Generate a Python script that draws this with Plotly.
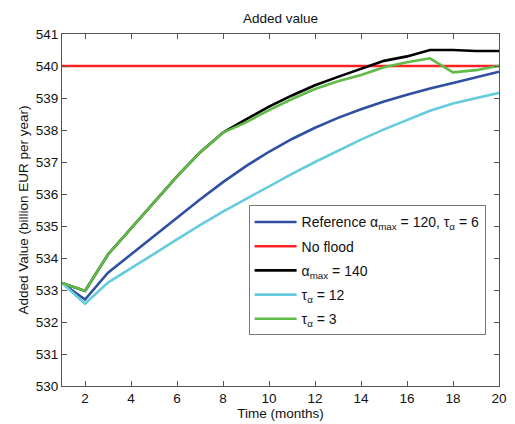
import plotly.graph_objects as go

months = list(range(1, 21))

reference = [533.22, 532.70, 533.54, 534.12, 534.68, 535.26, 535.83, 536.37, 536.87, 537.32,
             537.72, 538.07, 538.38, 538.65, 538.89, 539.10, 539.30, 539.47, 539.64, 539.82]
no_flood = [540.0] * 20
alpha_140 = [533.22, 532.97, 534.11, 534.92, 535.75, 536.55, 537.30, 537.92, 538.33, 538.73,
             539.08, 539.40, 539.66, 539.92, 540.16, 540.30, 540.50, 540.50, 540.47, 540.47]
tau_12 = [533.22, 532.57, 533.23, 533.67, 534.13, 534.58, 535.03, 535.45, 535.85, 536.25,
          536.63, 537.00, 537.35, 537.70, 538.02, 538.32, 538.60, 538.83, 539.00, 539.16]
tau_3 = [533.22, 532.97, 534.11, 534.92, 535.75, 536.55, 537.30, 537.92, 538.24, 538.62,
         538.97, 539.28, 539.52, 539.72, 539.96, 540.12, 540.24, 539.80, 539.87, 540.01]

series = [
    ("Reference α<sub>max</sub> = 120, τ<sub>α</sub> = 6", reference, "#2f4fa2"),
    ("No flood", no_flood, "#ff2222"),
    ("α<sub>max</sub> = 140", alpha_140, "#000000"),
    ("τ<sub>α</sub> = 12", tau_12, "#66cbdc"),
    ("τ<sub>α</sub> = 3", tau_3, "#5fba46"),
]

x_ticks = list(range(2, 21, 2))
y_ticks = list(range(530, 542))

fig = go.Figure()
for i, (name, vals, color) in enumerate(series):
    fig.add_trace(go.Scatter(x=months, y=vals, mode="lines", name=name,
                             legendgroup=f"g{i}",
                             line=dict(color=color, width=2.6)))

axis_common = dict(showline=True, linecolor="#555555", linewidth=1, mirror="ticks",
                   ticks="inside", ticklen=5, tickcolor="#555555", showgrid=False,
                   zeroline=False, tickfont=dict(size=13.5, color="#111111"))

fig.update_layout(
    width=507, height=416,
    margin=dict(l=54, r=8, t=26, b=37),
    paper_bgcolor="white", plot_bgcolor="white",
    font=dict(family="Liberation Sans, Arial, sans-serif", color="#111111"),
    title=dict(text="Added value", xref="paper", x=0.5, xanchor="center",
               yref="container", y=0.976, yanchor="middle",
               font=dict(size=13.5)),
    xaxis=dict(range=[1, 20], tickvals=x_ticks,
               title=dict(text="Time (months)", font=dict(size=13.5), standoff=0), **axis_common),
    yaxis=dict(range=[530, 541], tickvals=y_ticks,
               title=dict(text="Added Value (billion EUR per year)", font=dict(size=13.5), standoff=4),
               **axis_common),
    legend=dict(x=0.427, y=0.513, xanchor="left", yanchor="top",
                bgcolor="white", bordercolor="#777777", borderwidth=1,
                font=dict(size=14), traceorder="grouped", tracegroupgap=3,
                itemwidth=42),
    showlegend=True,
)

fig.write_html("out.html")
